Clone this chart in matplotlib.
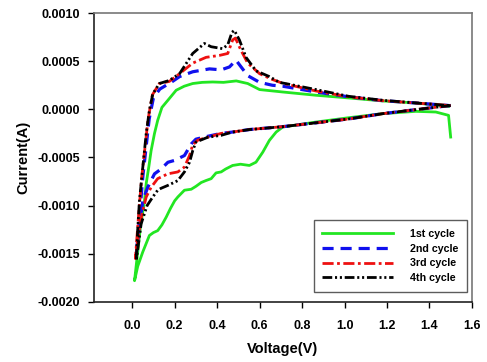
import matplotlib
matplotlib.use("Agg")
import matplotlib.pyplot as plt

plt.rcParams['font.family'] = ['Liberation Sans', 'DejaVu Sans']
plt.rcParams['font.weight'] = 'bold'
plt.rcParams['lines.scale_dashes'] = False

# Cycle 1 (cathodic from 1.5 V down, then anodic back up)
v1 = [1.50, 1.49, 1.43, 1.336, 1.18, 1.02, 0.866, 0.709, 0.678, 0.646, 0.615, 0.583, 0.552, 0.51, 0.473,
      0.44, 0.419, 0.395, 0.372, 0.347, 0.325, 0.30, 0.278, 0.246, 0.215, 0.20, 0.18, 0.16, 0.14, 0.12,
      0.10, 0.081, 0.05, 0.026, 0.011,
      0.025, 0.04, 0.058, 0.066, 0.078, 0.089, 0.105, 0.12, 0.14, 0.168, 0.207, 0.245, 0.285, 0.33,
      0.379, 0.43, 0.49, 0.544, 0.60, 0.709, 0.866, 1.02, 1.18, 1.336, 1.49]
i1 = [-0.000288, -0.0000625, -0.000028, -0.000021, -0.000045, -0.000087, -0.000132, -0.000184, -0.000236,
      -0.000323, -0.000445, -0.000549, -0.000583, -0.00057, -0.000583, -0.00062, -0.00065, -0.00066,
      -0.00072, -0.00074, -0.00076, -0.0008, -0.00083, -0.00084, -0.00091, -0.00095, -0.00103, -0.00112,
      -0.0012, -0.00126, -0.00128, -0.00131, -0.00148, -0.00163, -0.00178,
      -0.0015, -0.0012, -0.00095, -0.00077, -0.0006, -0.00043, -0.00025, -0.000115, 0.00002, 0.000094,
      0.000198, 0.00024, 0.000268, 0.00028, 0.000284, 0.00028, 0.000295, 0.000268, 0.000205, 0.00018,
      0.000146, 0.000118, 0.000087, 0.000066, 0.00003]

# Cycle 2
v2 = [1.50, 1.336, 1.18, 1.02, 0.866, 0.709, 0.552, 0.473, 0.419, 0.356, 0.30, 0.278, 0.246, 0.20,
      0.168, 0.136, 0.105, 0.073, 0.05, 0.035, 0.02,
      0.035, 0.05, 0.065, 0.08, 0.10, 0.13, 0.16, 0.19, 0.223, 0.285, 0.364, 0.419, 0.458, 0.489, 0.513,
      0.544, 0.60, 0.66, 0.709, 0.866, 1.02, 1.18, 1.336, 1.49]
i2 = [0.00004, -0.000003, -0.000045, -0.0001, -0.00014, -0.00018, -0.00021, -0.000236, -0.00025,
      -0.00028, -0.00031, -0.00036, -0.00048, -0.00053, -0.00055, -0.00062, -0.00067, -0.00081,
      -0.00095, -0.0012, -0.0015,
      -0.0011, -0.0007, -0.0004, -0.0001, 0.00012, 0.00021, 0.00025, 0.00029, 0.00034, 0.00039, 0.00042,
      0.00041, 0.00044, 0.00051, 0.00044, 0.00035, 0.00028, 0.00025, 0.00024, 0.00018, 0.00013, 0.00009,
      0.000066, 0.00004]

# Cycle 3
v3 = [1.50, 1.336, 1.18, 1.02, 0.866, 0.709, 0.552, 0.473, 0.419, 0.356, 0.309, 0.285, 0.27, 0.246,
      0.215, 0.168, 0.12, 0.089, 0.066, 0.045, 0.03, 0.015,
      0.03, 0.045, 0.06, 0.075, 0.095, 0.128, 0.175, 0.223, 0.285, 0.348, 0.411, 0.45, 0.473, 0.486,
      0.513, 0.544, 0.60, 0.66, 0.709, 0.866, 1.02, 1.18, 1.336, 1.49]
i3 = [0.00004, -0.000003, -0.000045, -0.0001, -0.00014, -0.00018, -0.00021, -0.000236, -0.00025,
      -0.00029, -0.00032, -0.00037, -0.00048, -0.0006, -0.00065, -0.00067, -0.00072, -0.00081, -0.00091,
      -0.0011, -0.0013, -0.00155,
      -0.0011, -0.0007, -0.0004, -0.0001, 0.00015, 0.000268, 0.00029, 0.00037, 0.00048, 0.00054, 0.00056,
      0.00058, 0.00072, 0.00074, 0.00061, 0.00048, 0.00037, 0.00031, 0.00027, 0.00019, 0.00013, 0.00009,
      0.000066, 0.00004]

# Cycle 4
v4 = [1.50, 1.336, 1.18, 1.02, 0.866, 0.709, 0.552, 0.473, 0.419, 0.356, 0.30, 0.285, 0.27, 0.246,
      0.215, 0.168, 0.136, 0.12, 0.097, 0.07, 0.042, 0.019,
      0.026, 0.034, 0.05, 0.066, 0.081, 0.097, 0.128, 0.175, 0.223, 0.285, 0.34, 0.372, 0.426, 0.45,
      0.47, 0.481, 0.505, 0.536, 0.583, 0.646, 0.693, 0.74, 0.866, 1.02, 1.18, 1.336, 1.49]
i4 = [0.00004, -0.000003, -0.000045, -0.0001, -0.00014, -0.00018, -0.00021, -0.000236, -0.00027,
      -0.00029, -0.00034, -0.00043, -0.00055, -0.00065, -0.00074, -0.00079, -0.00082, -0.00084,
      -0.00091, -0.001, -0.00119, -0.00157,
      -0.00125, -0.00095, -0.0006, -0.00025, -0.00001, 0.00016, 0.000268, 0.0003, 0.00037, 0.00058,
      0.000684, 0.00065, 0.00063, 0.00067, 0.0008, 0.00082, 0.00072, 0.00054, 0.0004, 0.00034, 0.00028,
      0.00026, 0.000205, 0.000135, 0.000094, 0.000066, 0.00004]

labels = ['1st cycle', '2nd cycle', '3rd cycle', '4th cycle']
x_ticks = [0.0, 0.2, 0.4, 0.6, 0.8, 1.0, 1.2, 1.4, 1.6]
y_ticks = [-0.0020, -0.0015, -0.0010, -0.0005, 0.0000, 0.0005, 0.0010]

fig = plt.figure(figsize=(4.87, 3.62), dpi=100)
ax = fig.add_axes([0.193, 0.166, 0.776, 0.798])

ax.plot(v1, i1, color='#22e622', lw=2.0, linestyle='-', label=labels[0], solid_joinstyle='round')
ax.plot(v2, i2, color='#1010ee', lw=2.3, linestyle=(0, (8, 5)), label=labels[1])
ax.plot(v3, i3, color='#ee1010', lw=2.0, linestyle=(0, (8, 2.5, 2, 2.5)), label=labels[2])
ax.plot(v4, i4, color='black', lw=2.0, linestyle=(0, (7, 2, 1.5, 2, 1.5, 2)), label=labels[3])

ax.set_xlim(-0.18, 1.6)
ax.set_ylim(-0.002, 0.001)
ax.set_xticks(x_ticks)
ax.set_xticklabels([f'{t:.1f}' for t in x_ticks])
ax.set_yticks(y_ticks)
ax.set_yticklabels([f'{t:.4f}' for t in y_ticks])
ax.tick_params(axis='x', direction='out', length=4, width=1, pad=9, labelsize=9)
ax.tick_params(axis='y', direction='out', length=4, width=1, pad=6, labelsize=9)

for s in ['left', 'bottom']:
    ax.spines[s].set_color('#222222')
    ax.spines[s].set_linewidth(1.2)
for s in ['top', 'right']:
    ax.spines[s].set_color('#777777')
    ax.spines[s].set_linewidth(1.2)

ax.set_xlabel('Voltage(V)', fontsize=10.5, fontweight='bold', labelpad=7)
ax.set_ylabel('Current(A)', fontsize=10.5, fontweight='bold', labelpad=5)

leg = ax.legend(loc='lower right', bbox_to_anchor=(0.987, 0.035), fontsize=7.7,
                frameon=True, fancybox=False, edgecolor='#333333', handlelength=6.6,
                handletextpad=1.6, labelspacing=0.45, borderpad=0.8, borderaxespad=0)
leg.get_frame().set_linewidth(1.0)
for t in leg.get_texts():
    t.set_fontweight('bold')

fig.savefig('out.png', dpi=100)
